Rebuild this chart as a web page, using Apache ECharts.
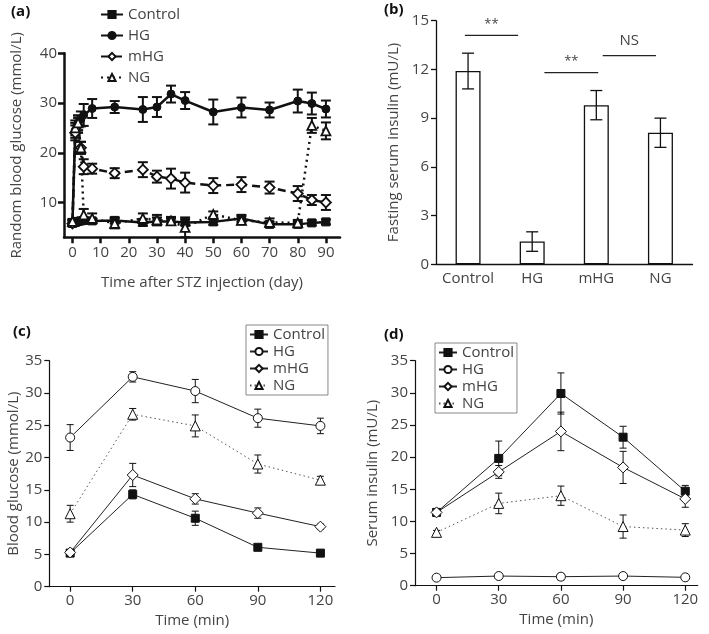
<!DOCTYPE html>
<html><head><meta charset="utf-8">
<script src="https://cdn.jsdelivr.net/npm/echarts@6/dist/echarts.min.js"></script>
<style>html,body{margin:0;padding:0;background:#fff}#c{width:709px;height:634px}</style>
</head><body><div id="c"></div>
<script>
// ---------- Panel (a): random blood glucose ----------
const aDays = [0, 1, 2, 3, 4, 7, 15, 25, 30, 35, 40, 50, 60, 70, 80, 85, 90];
const aControl = [5.8, 6.0, 6.2, 6.3, 6.4, 6.3, 6.4, 6.0, 6.2, 6.2, 6.0, 6.1, 6.8, 5.6, 5.6, 5.9, 6.1];
const aControlErr = [0.6, 0.6, 0.6, 0.6, 0.6, 0.5, 0.6, 0.7, 0.8, 0.6, 0.6, 0.6, 0.7, 0.5, 0.5, 0.5, 0.5];
const aHG = [6.0, 24.5, 26.0, 26.8, 27.6, 28.9, 29.2, 28.7, 29.2, 31.8, 30.5, 28.2, 29.1, 28.6, 30.4, 29.9, 28.8];
const aHGErr = [0.5, 1.5, 1.5, 1.5, 2.2, 1.9, 1.2, 2.5, 2.0, 1.7, 1.7, 2.5, 2.0, 1.5, 2.3, 2.2, 1.7];
const aMHG = [5.8, 24.0, 25.5, 21.0, 17.2, 16.8, 15.9, 16.6, 15.2, 14.8, 14.0, 13.4, 13.6, 13.0, 11.8, 10.5, 10.0];
const aMHGErr = [0.5, 1.5, 1.5, 1.2, 1.5, 1.0, 1.0, 1.5, 1.2, 2.0, 2.0, 1.5, 1.5, 1.2, 1.5, 1.0, 1.5];
const aNG = [6.2, 25.0, 26.0, 21.0, 7.5, 6.8, 5.8, 6.8, 6.5, 6.3, 5.0, 7.6, 6.4, 6.0, 5.9, 25.5, 24.4];
const aNGErr = [0.5, 1.5, 1.5, 1.2, 1.2, 1.0, 1.0, 1.0, 1.0, 0.8, 2.0, 0.6, 0.8, 0.8, 0.6, 1.5, 1.7];
const aXTicks = [0, 10, 20, 30, 40, 50, 60, 70, 80, 90];
const aYTicks = [10, 20, 30, 40];

// ---------- Panel (b): fasting serum insulin ----------
const bGroups = ['Control', 'HG', 'mHG', 'NG'];
const bValues = [11.9, 1.4, 9.8, 8.1];
const bErr = [1.1, 0.6, 0.9, 0.9];
const bSigStart = [-0.05, 1.19, 2.1];
const bSigEnd = [0.78, 2.03, 2.93];
const bSigLevel = [14.1, 11.8, 12.85];
const bSigText = ['**', '**', 'NS'];

// ---------- Panel (c): blood glucose (OGTT) ----------
const tMin = [0, 30, 60, 90, 120];
const cControl = [5.2, 14.3, 10.6, 6.1, 5.2];
const cControlErr = [0.3, 0.7, 1.1, 0.3, 0.3];
const cHG = [23.1, 32.5, 30.3, 26.1, 24.9];
const cHGErr = [2.0, 0.8, 1.8, 1.4, 1.2];
const cMHG = [5.3, 17.3, 13.6, 11.4, 9.3];
const cMHGErr = [0.4, 1.8, 0.8, 0.8, 0.4];
const cNG = [11.3, 26.7, 24.9, 19.0, 16.5];
const cNGErr = [1.3, 0.9, 1.7, 1.4, 0.6];

// ---------- Panel (d): serum insulin ----------
const dControl = [11.4, 19.8, 29.9, 23.1, 14.7];
const dControlErr = [0.6, 2.7, 3.2, 1.7, 0.9];
const dHG = [1.25, 1.5, 1.4, 1.5, 1.3];
const dHGErr = [0.1, 0.2, 0.5, 0.2, 0.1];
const dMHG = [11.4, 17.7, 24.0, 18.4, 13.5];
const dMHGErr = [0.6, 1.0, 3.0, 2.5, 1.3];
const dNG = [8.3, 12.8, 14.0, 9.2, 8.65];
const dNGErr = [0.3, 1.6, 1.5, 1.8, 1.0];

const groupNames = ['Control', 'HG', 'mHG', 'NG'];

const FONT = "'Open Sans', 'Noto Sans', sans-serif";
const TXT = '#444';
const INK = '#111';

function errRender(cap, lw) {
  return function (params, api) {
    const x = api.value(0), lo = api.value(1), hi = api.value(2);
    const p1 = api.coord([x, lo]), p2 = api.coord([x, hi]);
    const st = { stroke: INK, lineWidth: lw };
    return { type: 'group', children: [
      { type: 'line', shape: { x1: p1[0], y1: p1[1], x2: p2[0], y2: p2[1] }, style: st },
      { type: 'line', shape: { x1: p1[0] - cap, y1: p1[1], x2: p1[0] + cap, y2: p1[1] }, style: st },
      { type: 'line', shape: { x1: p2[0] - cap, y1: p2[1], x2: p2[0] + cap, y2: p2[1] }, style: st }
    ] };
  };
}
function errSeries(xi, yi, xs, ys, es, cap, lw) {
  return { type: 'custom', xAxisIndex: xi, yAxisIndex: yi, z: 1, silent: true,
    renderItem: errRender(cap, lw),
    encode: { x: 0, y: [1, 2] },
    data: xs.map((x, i) => [x, ys[i] - es[i], ys[i] + es[i]]) };
}
function lineSeries(name, xi, yi, xs, ys, sym, size, filled, lw, dash, color, bw) {
  return { type: 'line', name: name, xAxisIndex: xi, yAxisIndex: yi, z: 3,
    data: xs.map((x, i) => [x, ys[i]]),
    symbol: sym, symbolSize: size, showSymbol: true,
    lineStyle: { color: color, width: lw, type: dash },
    itemStyle: { color: filled ? INK : '#fff', borderColor: INK, borderWidth: bw },
    emphasis: { disabled: true } };
}
function axisBase(lw, tickLen) {
  return {
    axisLine: { show: true, onZero: false, lineStyle: { color: INK, width: lw } },
    axisTick: { show: true, length: tickLen, lineStyle: { color: INK, width: lw } },
    splitLine: { show: false },
    axisLabel: { color: TXT, fontSize: 15, fontFamily: FONT, margin: 7 },
    nameTextStyle: { color: TXT, fontSize: 15, fontFamily: FONT },
    nameLocation: 'middle'
  };
}

const chart = echarts.init(document.getElementById('c'), null, { renderer: 'canvas' });

const A = axisBase(2.5, 6), B = axisBase(1.3, 5), C = axisBase(1.2, 5);

const option = {
  animation: false,
  backgroundColor: '#fff',
  textStyle: { fontFamily: FONT },
  grid: [
    { left: 64, top: 53.3, width: 276, height: 184, outerBoundsMode: 'none' },
    { left: 436, top: 20.7, width: 256.5, height: 243.6, outerBoundsMode: 'none' },
    { left: 49.3, top: 360.7, width: 285.7, height: 226, outerBoundsMode: 'none' },
    { left: 415, top: 360.7, width: 282.7, height: 225, outerBoundsMode: 'none' }
  ],
  xAxis: [
    Object.assign({}, A, { gridIndex: 0, type: 'value', min: -3, max: 95,
      axisTick: Object.assign({}, A.axisTick, { customValues: aXTicks }),
      axisLabel: Object.assign({}, A.axisLabel, { customValues: aXTicks, margin: 8 }),
      name: 'Time after STZ injection (day)', nameGap: 38 }),
    Object.assign({}, B, { gridIndex: 1, type: 'category', data: bGroups,
      axisTick: { show: false }, axisLabel: Object.assign({}, B.axisLabel, { margin: 7, interval: 0 }) }),
    { gridIndex: 1, type: 'value', min: -0.5, max: 3.5, show: false },
    Object.assign({}, C, { gridIndex: 2, type: 'value', min: -10, max: 127,
      axisTick: Object.assign({}, C.axisTick, { customValues: tMin }),
      axisLabel: Object.assign({}, C.axisLabel, { customValues: tMin }),
      name: 'Time (min)', nameGap: 27 }),
    Object.assign({}, C, { gridIndex: 3, type: 'value', min: -10.4, max: 126,
      axisTick: Object.assign({}, C.axisTick, { customValues: tMin }),
      axisLabel: Object.assign({}, C.axisLabel, { customValues: tMin }),
      name: 'Time (min)', nameGap: 27 })
  ],
  yAxis: [
    Object.assign({}, A, { gridIndex: 0, type: 'value', min: 3, max: 40,
      axisTick: Object.assign({}, A.axisTick, { customValues: aYTicks }),
      axisLabel: Object.assign({}, A.axisLabel, { customValues: aYTicks }),
      name: 'Random blood glucose (mmol/L)', nameGap: 40 }),
    Object.assign({}, B, { gridIndex: 1, type: 'value', min: 0, max: 15, interval: 3,
      name: 'Fasting serum insulin (mU/L)', nameGap: 35 }),
    Object.assign({}, C, { gridIndex: 2, type: 'value', min: 0, max: 35, interval: 5,
      name: 'Blood glucose (mmol/L)', nameGap: 28 }),
    Object.assign({}, C, { gridIndex: 3, type: 'value', min: 0, max: 35, interval: 5,
      name: 'Serum insulin (mU/L)', nameGap: 35 })
  ],
  legend: [
    { orient: 'vertical', left: 95, top: 2, itemWidth: 22, itemHeight: 9, itemGap: 6,
      data: groupNames.map(n => 'a-' + n), formatter: n => n.slice(2),
      textStyle: { color: TXT, fontSize: 15, fontFamily: FONT, lineHeight: 15 },
      selectedMode: false },
    { orient: 'vertical', left: 246, top: 325, itemWidth: 18, itemHeight: 9, itemGap: 2,
      padding: [2, 3, 2, 3], borderColor: '#888', borderWidth: 1,
      data: groupNames.map(n => 'c-' + n), formatter: n => n.slice(2),
      textStyle: { color: TXT, fontSize: 15, fontFamily: FONT, lineHeight: 15 },
      selectedMode: false },
    { orient: 'vertical', left: 435, top: 343, itemWidth: 18, itemHeight: 9, itemGap: 2,
      padding: [2, 3, 2, 3], borderColor: '#888', borderWidth: 1,
      data: groupNames.map(n => 'd-' + n), formatter: n => n.slice(2),
      textStyle: { color: TXT, fontSize: 15, fontFamily: FONT, lineHeight: 15 },
      selectedMode: false }
  ],
  graphic: [
    { type: 'text', left: 11, top: 4, style: { text: '(a)', font: 'bold 15px ' + FONT, fill: INK } },
    { type: 'text', left: 384, top: 2, style: { text: '(b)', font: 'bold 15px ' + FONT, fill: INK } },
    { type: 'text', left: 13, top: 324, style: { text: '(c)', font: 'bold 15px ' + FONT, fill: INK } },
    { type: 'text', left: 384, top: 327, style: { text: '(d)', font: 'bold 15px ' + FONT, fill: INK } }
  ],
  series: [
    // (a)
    errSeries(0, 0, aDays, aControl, aControlErr, 5, 2),
    errSeries(0, 0, aDays, aHG, aHGErr, 5, 2),
    errSeries(0, 0, aDays, aMHG, aMHGErr, 5, 2),
    errSeries(0, 0, aDays, aNG, aNGErr, 5, 2),
    lineSeries('a-Control', 0, 0, aDays, aControl, 'rect', 8, true, 2.5, 'solid', INK, 1),
    lineSeries('a-HG', 0, 0, aDays, aHG, 'circle', 8, true, 2.5, 'solid', INK, 1),
    lineSeries('a-mHG', 0, 0, aDays, aMHG, 'diamond', 10, false, 2.5, [8, 5], INK, 1.8),
    lineSeries('a-NG', 0, 0, aDays, aNG, 'triangle', 9, false, 2.5, [2, 4], INK, 1.8),
    // (b)
    { type: 'bar', xAxisIndex: 1, yAxisIndex: 1, data: bValues, barWidth: 25, z: 2,
      itemStyle: { color: '#fff', borderColor: INK, borderWidth: 1.3 }, emphasis: { disabled: true } },
    { type: 'custom', xAxisIndex: 1, yAxisIndex: 1, z: 3, silent: true,
      renderItem: errRender(6, 1.3), encode: { x: 0, y: [1, 2] },
      data: bValues.map((v, i) => [i, v - bErr[i], v + bErr[i]]) },
    { type: 'custom', xAxisIndex: 2, yAxisIndex: 1, z: 3, silent: true,
      encode: { x: [0, 1], y: 2 },
      data: bSigLevel.map((v, i) => [bSigStart[i], bSigEnd[i], v, bSigText[i]]),
      renderItem: function (params, api) {
        const p1 = api.coord([api.value(0), api.value(2)]);
        const p2 = api.coord([api.value(1), api.value(2)]);
        const txt = bSigText[params.dataIndex];
        const isNS = txt === 'NS';
        return { type: 'group', children: [
          { type: 'line', shape: { x1: p1[0], y1: p1[1], x2: p2[0], y2: p2[1] },
            style: { stroke: '#222', lineWidth: 1.2 } },
          { type: 'text', x: (p1[0] + p2[0]) / 2, y: p1[1] - (isNS ? 7 : 5),
            style: { text: txt, textAlign: 'center', textVerticalAlign: 'bottom',
              font: (isNS ? '15px ' : '13px ') + FONT, fill: TXT } }
        ] };
      } },
    // (c)
    errSeries(3, 2, tMin, cControl, cControlErr, 3.5, 1),
    errSeries(3, 2, tMin, cHG, cHGErr, 3.5, 1),
    errSeries(3, 2, tMin, cMHG, cMHGErr, 3.5, 1),
    errSeries(3, 2, tMin, cNG, cNGErr, 3.5, 1),
    lineSeries('c-Control', 3, 2, tMin, cControl, 'rect', 8, true, 1, 'solid', '#222', 1),
    lineSeries('c-HG', 3, 2, tMin, cHG, 'circle', 9, false, 1, 'solid', '#222', 1),
    lineSeries('c-mHG', 3, 2, tMin, cMHG, 'diamond', 11, false, 1, 'solid', '#222', 1),
    lineSeries('c-NG', 3, 2, tMin, cNG, 'triangle', 10, false, 1, [1.5, 3], '#555', 1),
    // (d)
    errSeries(4, 3, tMin, dControl, dControlErr, 3.5, 1),
    errSeries(4, 3, tMin, dHG, dHGErr, 3.5, 1),
    errSeries(4, 3, tMin, dMHG, dMHGErr, 3.5, 1),
    errSeries(4, 3, tMin, dNG, dNGErr, 3.5, 1),
    lineSeries('d-Control', 4, 3, tMin, dControl, 'rect', 8, true, 1, 'solid', '#222', 1),
    lineSeries('d-HG', 4, 3, tMin, dHG, 'circle', 9, false, 1, 'solid', '#222', 1),
    lineSeries('d-mHG', 4, 3, tMin, dMHG, 'diamond', 11, false, 1, 'solid', '#222', 1),
    lineSeries('d-NG', 4, 3, tMin, dNG, 'triangle', 10, false, 1, [1.5, 3], '#555', 1)
  ]
};
chart.setOption(option);
</script>
</body></html>
